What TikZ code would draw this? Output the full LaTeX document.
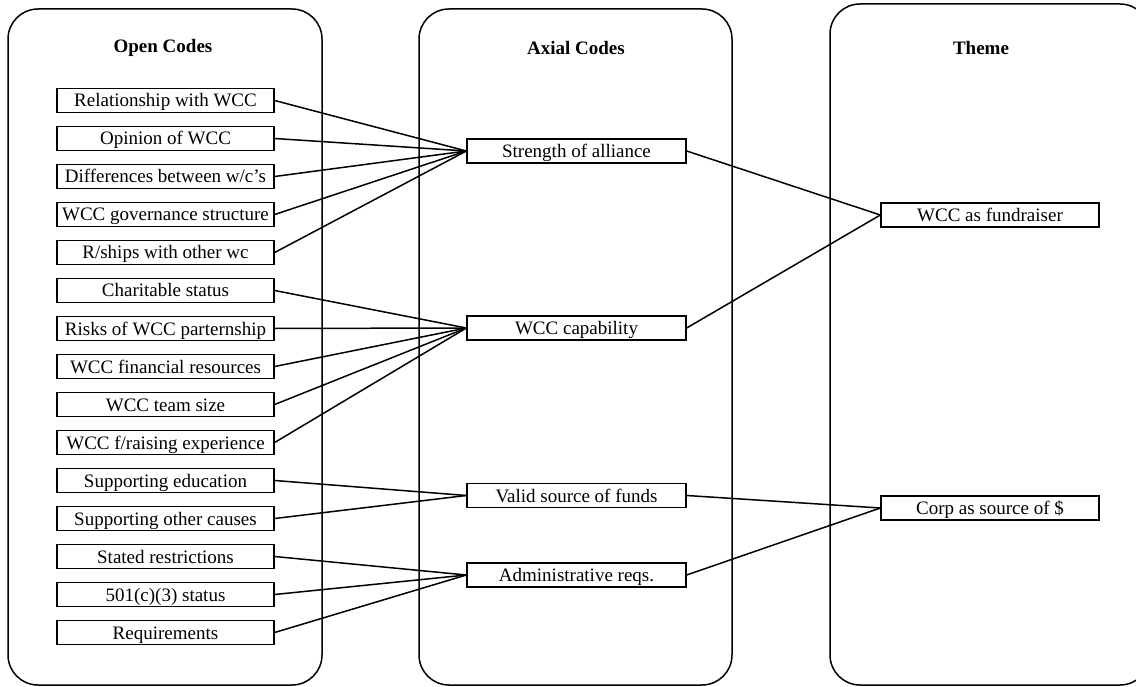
\documentclass[tikz,border=0pt]{standalone}
\usepackage{fontspec}
\setmainfont{Liberation Serif}
\begin{document}
\begin{tikzpicture}[x=1pt,y=-1pt,
  panel/.style={draw=black,line width=1.5pt,rounded corners=30pt},
  codebox/.style={draw=black,line width=1.3pt,minimum width=217pt,minimum height=24pt,inner sep=0pt,text height=14pt,text depth=1pt,font=\fontsize{19}{22}\selectfont},
  title/.style={font=\fontsize{19}{22}\selectfont\bfseries,inner sep=0pt},
  link/.style={draw=black,line width=1.5pt}]
\useasboundingbox (0,0) rectangle (1136,687);
\begin{scope}
\clip (0,0) rectangle (1136,687);
\draw[panel] (8,9) rectangle (322,685);
\draw[panel] (419,9) rectangle (732,685);
\draw[panel] (830,4) rectangle (1150,685);
\end{scope}
\node[title] (t1) at (163,48) {Open Codes};
\node[title] (t2) at (576,48) {Axial Codes};
\node[title] (t3) at (981,48) {Theme};
% open codes
\foreach \i/\txt in {1/{Relationship with WCC},2/{Opinion of WCC},3/{Differences between w/c’s},4/{WCC governance structure},5/{R/ships with other wc},6/{Charitable status},7/{Risks of WCC parternship},8/{WCC financial resources},9/{WCC team size},10/{WCC f/raising experience},11/{Supporting education},12/{Supporting other causes},13/{Stated restrictions},14/{501(c)(3) status},15/{Requirements}}
  \node[codebox] (o\i) at (165.5,{100.5+38*(\i-1)}) {\txt};
% axial codes
\node[codebox,minimum width=219pt] (a1) at (576.5,151) {Strength of alliance};
\node[codebox,minimum width=219pt] (a2) at (576.5,328) {WCC capability};
\node[codebox,minimum width=219pt] (a3) at (576.5,495.5) {Valid source of funds};
\node[codebox,minimum width=219pt] (a4) at (576.5,575) {Administrative reqs.};
% themes
\node[codebox,minimum width=218pt] (th1) at (990,215) {WCC as fundraiser};
\node[codebox,minimum width=218pt] (th2) at (990,508) {Corp as source of \$};
% links
\foreach \i in {1,...,5} \draw[link] (o\i.east) -- (a1.west);
\foreach \i in {6,...,10} \draw[link] (o\i.east) -- (a2.west);
\foreach \i in {11,12} \draw[link] (o\i.east) -- (a3.west);
\foreach \i in {13,14,15} \draw[link] (o\i.east) -- (a4.west);
\draw[link] (a1.east) -- (th1.west);
\draw[link] (a2.east) -- (th1.west);
\draw[link] (a3.east) -- (th2.west);
\draw[link] (a4.east) -- (th2.west);
\end{tikzpicture}
\end{document}
